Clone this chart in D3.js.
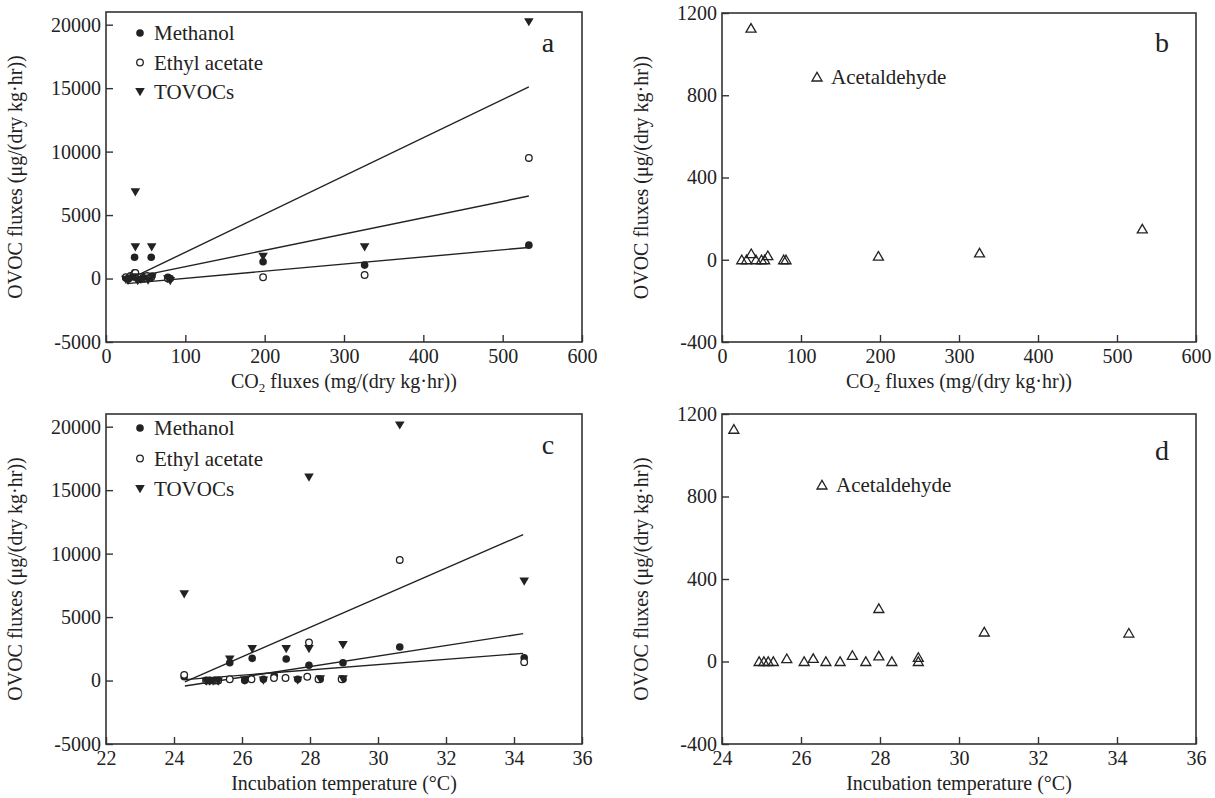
<!DOCTYPE html>
<html>
<head>
<meta charset="utf-8">
<script src="https://cdn.jsdelivr.net/npm/d3@7"></script>
<style>
  body { margin: 0; background: #fff; }
  svg text { font-family: 'Liberation Serif', 'Times New Roman', serif; fill: #222; }
</style>
</head>
<body>
<div id="chart"></div>
<script>
// ---- data ----
// panel a: CO2 flux (mg/(dry kg·hr)) vs OVOC flux (µg/(dry kg·hr))
const co2Methanol = [[25,50],[28,0],[31,100],[35,200],[36,460],[36,1680],[40,100],[44,0],[48,150],[52,100],[57,1680],[58,200],[78,100],[81,0],[198,1320],[326,1060],[533,2630]];
const co2Ethyl = [[25,100],[28,0],[31,200],[35,300],[37,450],[40,0],[44,100],[48,0],[52,200],[57,100],[78,0],[198,100],[326,280],[533,9500]];
const co2Tovoc = [[25,-100],[28,-150],[31,0],[35,100],[37,2460],[37,6800],[40,-200],[44,-100],[48,0],[53,-150],[57.6,2460],[58,100],[78,-50],[81,-200],[198,1720],[326,2460],[533,20200]];
// fitted lines [x0, y0, x1, y1]
const co2Fits = [[25,-190,533,15100],[25,-30,533,6500],[26,-400,533,2450]];

// panel b: CO2 flux vs acetaldehyde flux
const co2Acetal = [[25,0],[31,0],[36.7,1126],[37,30],[43,0],[50,0],[54,0],[58,20],[78,0],[81,0],[198,18],[326,33],[532,150]];

// panel c: incubation temperature (°C) vs OVOC flux
const tMethanol = [[24.3,300],[24.95,0],[25.05,0],[25.2,0],[25.3,0],[25.64,1400],[26.08,0],[26.3,1750],[26.63,100],[26.95,400],[27.3,1700],[27.64,100],[27.97,1200],[28.3,100],[28.97,1400],[28.97,100],[30.64,2640],[34.3,1800]];
const tEthyl = [[24.3,450],[24.95,0],[25.05,0],[25.2,0],[25.3,0],[25.64,100],[26.28,100],[26.94,200],[27.28,200],[27.92,300],[27.97,3000],[28.25,100],[28.93,100],[30.64,9500],[34.3,1450]];
const tTovoc = [[24.3,6800],[24.95,-80],[25.05,-80],[25.15,-80],[25.3,-80],[25.64,1650],[26.08,0],[26.3,2480],[26.63,0],[27.3,2480],[27.64,0],[27.97,2480],[27.97,16000],[28.3,100],[28.97,2800],[28.97,100],[30.64,20100],[34.3,7800]];
const tFits = [[24.32,-100,34.27,11500],[24.32,-430,34.27,3700],[24.32,70,34.27,2140]];

// panel d: incubation temperature vs acetaldehyde flux
const tAcetal = [[24.3,1126],[24.94,0],[25.06,0],[25.17,0],[25.3,0],[25.64,14],[26.08,0],[26.31,15],[26.63,0],[26.99,0],[27.3,30],[27.64,0],[27.97,27],[27.97,257],[28.3,0],[28.97,20],[28.97,0],[30.64,143],[34.3,138]];

// axis ticks
const ovocTicks = [-5000, 0, 5000, 10000, 15000, 20000];
const acetalTicks = [-400, 0, 400, 800, 1200];
const co2Ticks = [0, 100, 200, 300, 400, 500, 600];
const tempTicksC = [22, 24, 26, 28, 30, 32, 34, 36];
const tempTicksD = [24, 26, 28, 30, 32, 34, 36];

const legendOvoc = ["Methanol", "Ethyl acetate", "TOVOCs"];
const legendAcetal = ["Acetaldehyde"];

// ---- drawing ----
const svg = d3.select("#chart").append("svg")
  .attr("width", 1215)
  .attr("height", 798);

const ink = "#222";
const downTri = "M-4.8,-4 L4.8,-4 L0,4.2 Z";
const upTri = "M-5,4 L5,4 L0,-4.6 Z";
const plain = d => String(d); // keeps the ASCII hyphen like the original

function drawMarker(g, kind, cx, cy) {
  if (kind === "filled") {
    g.append("circle").attr("cx", cx).attr("cy", cy).attr("r", 3.8).attr("fill", ink);
  } else if (kind === "open") {
    g.append("circle").attr("cx", cx).attr("cy", cy).attr("r", 3.3)
      .attr("fill", "#fff").attr("stroke", ink).attr("stroke-width", 1.3);
  } else if (kind === "down") {
    g.append("path").attr("d", downTri).attr("transform", `translate(${cx},${cy})`).attr("fill", ink);
  } else {
    g.append("path").attr("d", upTri).attr("transform", `translate(${cx},${cy})`)
      .attr("fill", "none").attr("stroke", ink).attr("stroke-width", 1.3);
  }
}

function xTitle(g, co2) {
  const t = g.append("text").attr("text-anchor", "middle").attr("font-size", 20);
  if (co2) {
    t.append("tspan").text("CO");
    t.append("tspan").attr("font-size", 13).attr("dy", 4).text("2");
    t.append("tspan").attr("dy", -4).text(" fluxes (mg/(dry kg·hr))");
  } else {
    t.text("Incubation temperature (°C)");
  }
  return t;
}

function drawPanel(p) {
  const w = p.right - p.left, h = p.bottom - p.top;
  const g = svg.append("g").attr("transform", `translate(${p.left},${p.top})`);
  const x = d3.scaleLinear().domain(p.xDomain).range([0, w]);
  const y = d3.scaleLinear().domain(p.yDomain).range([h, 0]);

  // axes with inward ticks
  const yAxis = g.append("g")
    .call(d3.axisLeft(y).tickValues(p.yTicks).tickSizeInner(-7).tickSizeOuter(0).tickPadding(5).tickFormat(plain));
  const xAxis = g.append("g").attr("transform", `translate(0,${h})`)
    .call(d3.axisBottom(x).tickValues(p.xTicks).tickSizeInner(-7).tickSizeOuter(0).tickPadding(6).tickFormat(plain));
  [yAxis, xAxis].forEach(a => {
    a.select(".domain").remove();
    a.selectAll(".tick line").attr("stroke", "#333").attr("stroke-width", 1.4);
    a.selectAll(".tick text").attr("font-size", 20).attr("fill", ink)
      .style("font-family", "'Liberation Serif', serif");
  });
  xAxis.selectAll(".tick text").attr("dy", "0.75em");

  g.append("rect").attr("width", w).attr("height", h)
    .attr("fill", "none").attr("stroke", "#333").attr("stroke-width", 1.6);

  // fitted lines
  (p.fits || []).forEach(f => {
    g.append("line")
      .attr("x1", x(f[0])).attr("y1", y(f[1]))
      .attr("x2", x(f[2])).attr("y2", y(f[3]))
      .attr("stroke", ink).attr("stroke-width", 1.4);
  });

  // points
  p.series.forEach(s => {
    s.data.forEach(d => drawMarker(g, s.kind, x(d[0]), y(d[1])));
  });

  // legend
  p.legend.forEach((lab, i) => {
    const ly = p.legendY + i * p.legendStep;
    drawMarker(g, p.series[p.series.length > 1 ? i : 0].kind, p.legendX, ly);
    g.append("text").attr("x", p.legendX + 14).attr("y", ly).attr("dy", "0.35em")
      .attr("font-size", 21).text(lab);
  });

  // panel letter
  g.append("text").attr("x", w - 34).attr("y", p.letterY).attr("font-size", 28)
    .attr("text-anchor", "middle").text(p.letter);

  // axis titles
  xTitle(g, p.co2).attr("x", w / 2).attr("y", h + 46);
  g.append("text").attr("transform", `translate(${p.yTitleX},${h / 2}) rotate(-90)`)
    .attr("text-anchor", "middle").attr("font-size", 20)
    .text("OVOC fluxes (μg/(dry kg·hr))");
}

drawPanel({
  left: 106, right: 582, top: 12, bottom: 342,
  xDomain: [0, 600], yDomain: [-5000, 21000],
  xTicks: co2Ticks, yTicks: ovocTicks, co2: true,
  fits: co2Fits,
  series: [
    { kind: "filled", data: co2Methanol },
    { kind: "open", data: co2Ethyl },
    { kind: "down", data: co2Tovoc }
  ],
  legend: legendOvoc, legendX: 34, legendY: 21, legendStep: 29.5,
  letter: "a", letterY: 40, yTitleX: -84
});

drawPanel({
  left: 722, right: 1196, top: 13, bottom: 342,
  xDomain: [0, 600], yDomain: [-400, 1200],
  xTicks: co2Ticks, yTicks: acetalTicks, co2: true,
  series: [{ kind: "up", data: co2Acetal }],
  legend: legendAcetal, legendX: 95, legendY: 64, legendStep: 0,
  letter: "b", letterY: 39, yTitleX: -74
});

drawPanel({
  left: 106, right: 582, top: 414, bottom: 744,
  xDomain: [22, 36], yDomain: [-5000, 21000],
  xTicks: tempTicksC, yTicks: ovocTicks, co2: false,
  fits: tFits,
  series: [
    { kind: "filled", data: tMethanol },
    { kind: "open", data: tEthyl },
    { kind: "down", data: tTovoc }
  ],
  legend: legendOvoc, legendX: 34, legendY: 14, legendStep: 30.5,
  letter: "c", letterY: 40, yTitleX: -84
});

drawPanel({
  left: 722, right: 1196, top: 414, bottom: 744,
  xDomain: [24, 36], yDomain: [-400, 1200],
  xTicks: tempTicksD, yTicks: acetalTicks, co2: false,
  series: [{ kind: "up", data: tAcetal }],
  legend: legendAcetal, legendX: 100, legendY: 71, legendStep: 0,
  letter: "d", letterY: 46, yTitleX: -74
});
</script>
</body>
</html>
